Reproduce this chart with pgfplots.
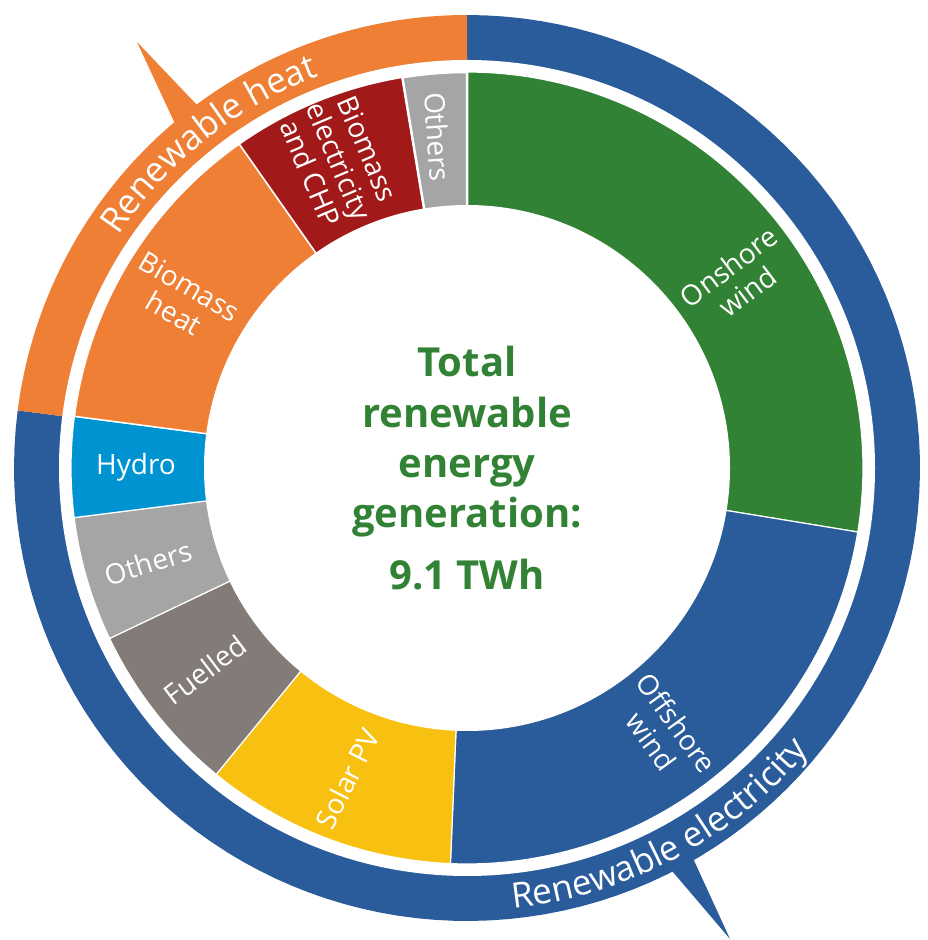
\documentclass[border=0pt]{standalone}
\usepackage{fontspec}
\setmainfont{Open Sans}
\usepackage{pgfplots}
\pgfplotsset{compat=1.18}
\usetikzlibrary{decorations.text}
\definecolor{cgreen}{HTML}{318234}
\definecolor{cblue}{HTML}{2A5C9B}
\definecolor{corange}{HTML}{EE7F35}
\definecolor{cred}{HTML}{A11A19}
\definecolor{cgrey}{HTML}{A5A5A5}
\definecolor{cfuel}{HTML}{837B78}
\definecolor{chydro}{HTML}{0093D1}
\definecolor{cyellow}{HTML}{F8C112}
\newcommand{\labfont}{\fontsize{28}{31}\selectfont}
\newcommand{\bandfont}{\color{white}\fontsize{35}{38}\selectfont}
\newcommand{\ctrfont}{\fontsize{40}{44}\selectfont\bfseries}
% slice: start angle, end angle, colour, white gap width
\newcommand{\slice}[4]{%
  \addplot[fill=#3, draw=white, line width=#4, line join=miter, domain=#1:#2, samples=90, variable=\t]
    ({396*cos(\t)},{396*sin(\t)}) -- (axis cs:0,0) -- cycle;}
\newcommand{\band}[3]{%
  \addplot[fill=#3, draw=none, domain=#1:#2, samples=120, variable=\t]
    ({453*cos(\t)},{453*sin(\t)}) -- (axis cs:0,0) -- cycle;}
\begin{document}
\begin{tikzpicture}
\begin{axis}[x=1pt, y=1pt, xmin=-467, xmax=460, ymin=-472, ymax=468,
  hide axis, clip=false]
\addplot[draw=none] coordinates {(-467,-472) (460,468)};
% outer band
\band{-187.3}{90}{cblue}
\band{90}{172.7}{corange}
\addplot[fill=corange, draw=none] coordinates {(-330,426) (-287,333.5) (-261.4,354)} -- cycle;
\addplot[fill=cblue, draw=none] coordinates {(263,-471) (197,-393.5) (221.4,-380.3)} -- cycle;
\fill[white] (axis cs:0,0) circle[radius=408pt];
% inner ring (angles in degrees, clockwise from the top)
\slice{-9.3}{90}{cgreen}{1.2}
\slice{-92.4}{-9.3}{cblue}{1.2}
\slice{-129.3}{-92.4}{cyellow}{1.2}
\slice{-154.5}{-129.3}{cfuel}{1.2}
\slice{-172.8}{-154.5}{cgrey}{1.2}
\slice{-187.5}{-172.8}{chydro}{1.2}
\slice{-234.9}{-187.5}{corange}{1.5}
\slice{-260.6}{-234.9}{cred}{1.5}
\slice{-270}{-260.6}{cgrey}{2.5}
\fill[white] (axis cs:0,0) circle[radius=263pt];
% slice labels
\node[rotate=37, align=center, font=\labfont, text=white] at (axis cs:271,189) {Onshore\\wind};
\node[rotate=-54, align=center, font=\labfont, text=white] at (axis cs:197,-264) {Offshore\\wind};
\node[rotate=63, align=center, font=\labfont, text=white] at (axis cs:-119.5,-310.5) {Solar PV};
\node[rotate=37, align=center, font=\labfont, text=white] at (axis cs:-262,-202) {Fuelled};
\node[rotate=17, align=center, font=\labfont, text=white] at (axis cs:-319,-95) {Others};
\node[rotate=0, align=center, font=\labfont, text=white] at (axis cs:-331,1) {Hydro};
\node[rotate=-30, align=center, font=\labfont, text=white] at (axis cs:-285,168) {Biomass\\heat};
\node[rotate=-67, align=center, font=\labfont, text=white] at (axis cs:-128,307) {Biomass\\electricity\\and CHP};
\node[rotate=-86, align=center, font=\labfont, text=white] at (axis cs:-29,331) {Others};
% band labels
\path[decorate, decoration={text along path, text align=center, text={|\bandfont|Renewable heat}}]
  (axis cs:{419*cos(158.5)},{419*sin(158.5)}) arc[start angle=158.5, end angle=98.5, radius=419pt];
\path[decorate, decoration={text along path, text align=center, text={|\bandfont|Renewable electricity}}]
  (axis cs:{443*cos(-95)},{443*sin(-95)}) arc[start angle=-95, end angle=-28.5, radius=443pt];
% centre text
\node[anchor=base, font=\ctrfont, text=cgreen] at (axis cs:0,91) {Total};
\node[anchor=base, font=\ctrfont, text=cgreen] at (axis cs:0,40) {renewable};
\node[anchor=base, font=\ctrfont, text=cgreen] at (axis cs:0,-10) {energy};
\node[anchor=base, font=\ctrfont, text=cgreen] at (axis cs:0,-60) {generation:};
\node[anchor=base, font=\ctrfont, text=cgreen] at (axis cs:0,-122) {9.1 TWh};
\end{axis}
\end{tikzpicture}
\end{document}
